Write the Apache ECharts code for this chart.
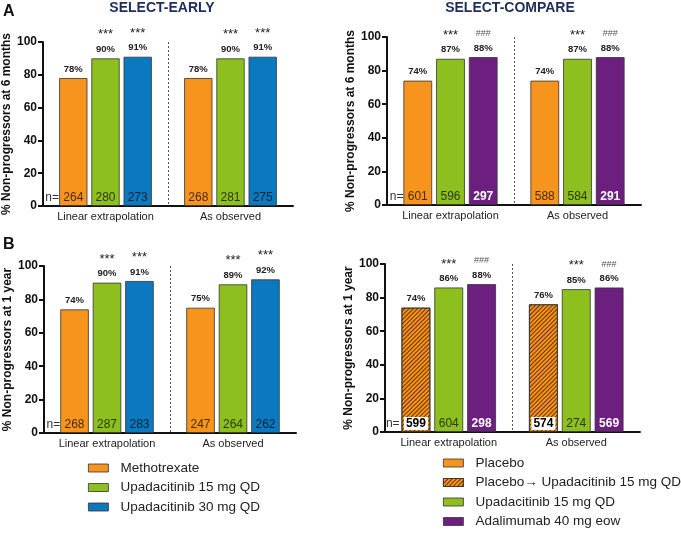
<!DOCTYPE html>
<html><head><meta charset="utf-8">
<script src="https://cdn.jsdelivr.net/npm/echarts@6/dist/echarts.min.js"></script>
<style>html,body{margin:0;padding:0;background:#fff}#c{width:681px;height:533px}</style>
</head><body><div id="c"></div>
<script>
// ---------- DATA ----------
const categories = ['Linear extrapolation', 'As observed'];
const yTicks = [0, 20, 40, 60, 80, 100];

// Panel A left: SELECT-EARLY, 6 months
const aEarlyMtx = [78, 78];   const aEarlyMtxN = [264, 268];
const aEarlyU15 = [90, 90];   const aEarlyU15N = [280, 281];
const aEarlyU30 = [91, 91];   const aEarlyU30N = [273, 275];
// Panel A right: SELECT-COMPARE, 6 months
const aCmpPbo = [74, 74];     const aCmpPboN = [601, 588];
const aCmpU15 = [87, 87];     const aCmpU15N = [596, 584];
const aCmpAda = [88, 88];     const aCmpAdaN = [297, 291];
// Panel B left: SELECT-EARLY, 1 year
const bEarlyMtx = [74, 75];   const bEarlyMtxN = [268, 247];
const bEarlyU15 = [90, 89];   const bEarlyU15N = [287, 264];
const bEarlyU30 = [91, 92];   const bEarlyU30N = [283, 262];
// Panel B right: SELECT-COMPARE, 1 year
const bCmpPboUpa = [74, 76];  const bCmpPboUpaN = [599, 574];
const bCmpU15 = [86, 85];     const bCmpU15N = [604, 274];
const bCmpAda = [88, 86];     const bCmpAdaN = [298, 569];

const starMarks = ['***', '***'];
const hashMarks = ['###', '###'];
const noMarks = ['', ''];

// ---------- STYLE ----------
const FONT = 'Liberation Sans, Arial, Helvetica, sans-serif';
const C_ORANGE = '#F7941D', C_GREEN = '#8DC01E', C_BLUE = '#0A79BF', C_PURPLE = '#6C1F7F';
const hatch = { symbol: 'rect', symbolSize: 1, color: '#6a3200', dashArrayX: [1, 0], dashArrayY: [1, 2], rotation: -Math.PI / 4 };

const rich = {
  pre: { fontSize: 12, color: '#333', width: 18, align: 'left', fontFamily: FONT },
  nm: { fontSize: 12, color: 'rgba(0,0,0,0.72)', fontFamily: FONT },
  nw: { fontSize: 12, color: '#fff', fontWeight: 'bold', fontFamily: FONT },
  nb: { fontSize: 12, color: '#000', fontWeight: 'bold', backgroundColor: '#fff', padding: [1, 2, 0, 2], fontFamily: FONT },
  s: { fontSize: 13, color: '#222', lineHeight: 17, fontFamily: FONT },
  h: { fontSize: 9, color: '#555', lineHeight: 17, fontFamily: FONT },
  v: { fontSize: 9.5, color: '#222', fontWeight: 'bold', lineHeight: 12, fontFamily: FONT }
};

const series = [];
function addBar(gi, name, vals, ns, marks, color, nStyle, first, decal) {
  const stack = 'g' + gi + '_' + name;
  series.push({
    name, type: 'bar', xAxisIndex: gi, yAxisIndex: gi, stack,
    data: vals.map((v, i) => (first && i === 0) ? { value: v, label: { offset: [-9, 0] } } : v),
    barWidth: '22.6%', barGap: '14%',
    itemStyle: { color, borderColor: '#333', borderWidth: 0.8, decal: decal || null },
    label: {
      show: true, position: 'insideBottom', distance: 2, rich,
      formatter: p => ((first && p.dataIndex === 0) ? '{pre|n=}' : '') + '{' + nStyle + '|' + ns[p.dataIndex] + '}'
    },
    emphasis: { disabled: true }
  });
  series.push({
    name: name + ' (label)', type: 'bar', xAxisIndex: gi, yAxisIndex: gi, stack, data: vals.map(() => 0),
    barWidth: '22.6%', barGap: '14%', silent: true,
    itemStyle: { color: 'rgba(0,0,0,0)', borderWidth: 0 },
    label: {
      show: true, position: 'top', distance: 3, rich,
      formatter: p => {
        const m = marks[p.dataIndex];
        const head = m ? '{' + (m === '***' ? 's' : 'h') + '|' + m + '}\n' : '';
        return head + '{v|' + vals[p.dataIndex] + '%}';
      }
    },
    emphasis: { disabled: true }
  });
}

addBar(0, 'Methotrexate', aEarlyMtx, aEarlyMtxN, noMarks, C_ORANGE, 'nm', true);
addBar(0, 'Upadacitinib 15 mg QD', aEarlyU15, aEarlyU15N, starMarks, C_GREEN, 'nm', false);
addBar(0, 'Upadacitinib 30 mg QD', aEarlyU30, aEarlyU30N, starMarks, C_BLUE, 'nm', false);

addBar(1, 'Placebo', aCmpPbo, aCmpPboN, noMarks, C_ORANGE, 'nm', true);
addBar(1, 'Upadacitinib 15 mg QD', aCmpU15, aCmpU15N, starMarks, C_GREEN, 'nm', false);
addBar(1, 'Adalimumab 40 mg eow', aCmpAda, aCmpAdaN, hashMarks, C_PURPLE, 'nw', false);

addBar(2, 'Methotrexate', bEarlyMtx, bEarlyMtxN, noMarks, C_ORANGE, 'nm', true);
addBar(2, 'Upadacitinib 15 mg QD', bEarlyU15, bEarlyU15N, starMarks, C_GREEN, 'nm', false);
addBar(2, 'Upadacitinib 30 mg QD', bEarlyU30, bEarlyU30N, starMarks, C_BLUE, 'nm', false);

addBar(3, 'Placebo\u2192 Upadacitinib 15 mg QD', bCmpPboUpa, bCmpPboUpaN, noMarks, C_ORANGE, 'nb', true, hatch);
addBar(3, 'Upadacitinib 15 mg QD', bCmpU15, bCmpU15N, starMarks, C_GREEN, 'nm', false);
addBar(3, 'Adalimumab 40 mg eow', bCmpAda, bCmpAdaN, hashMarks, C_PURPLE, 'nw', false);

const grids = [
  { left: 43, top: 42, width: 250, height: 164 },
  { left: 387, top: 37, width: 254, height: 168 },
  { left: 44, top: 266, width: 252, height: 167 },
  { left: 385, top: 264, width: 255, height: 168 }
];
const yNames = ['% Non-progressors at 6 months', '% Non-progressors at 6 months',
                '% Non-progressors at 1 year', '% Non-progressors at 1 year'];
const nameGaps = [26, 28, 27, 27];

const xAxis = grids.map((g, i) => ({
  type: 'category', gridIndex: i, data: categories,
  axisLine: { show: true, lineStyle: { color: '#111', width: 2 } },
  axisTick: { show: false },
  axisLabel: { fontSize: 11, color: '#222', margin: 5, fontFamily: FONT, interval: 0 },
  splitLine: { show: true, showMinLine: false, showMaxLine: false, lineStyle: { color: '#555', width: 1, type: [2, 2] } }
}));
const yAxis = grids.map((g, i) => ({
  type: 'value', gridIndex: i, min: yTicks[0], max: yTicks[yTicks.length - 1], interval: yTicks[1] - yTicks[0],
  name: yNames[i], nameLocation: 'middle', nameGap: nameGaps[i], nameRotate: 90,
  nameTextStyle: { fontSize: 12, fontWeight: 'bold', color: '#111', fontFamily: FONT },
  axisLine: { show: true, lineStyle: { color: '#111', width: 2 } },
  axisTick: { show: true, length: 5, lineStyle: { color: '#111', width: 2 } },
  axisLabel: { fontSize: 12, fontWeight: 'bold', color: '#111', margin: 6, fontFamily: FONT },
  splitLine: { show: false }
}));

const legendBase = {
  orient: 'vertical', icon: 'rect', itemWidth: 20, itemHeight: 8, itemGap: 5.5, selectedMode: false, padding: 0,
  textStyle: { fontSize: 13.5, color: '#222', fontFamily: FONT, lineHeight: 14, padding: [0, 0, 0, 7] },
  itemStyle: { borderColor: '#333', borderWidth: 0.8 }
};

const chart = echarts.init(document.getElementById('c'), null, { renderer: 'canvas' });
chart.setOption({
  animation: false,
  backgroundColor: '#fff',
  textStyle: { fontFamily: FONT },
  title: [
    { text: 'A', left: 3, top: 4, padding: 0, textStyle: { fontSize: 16, fontWeight: 'bold', color: '#111', fontFamily: FONT } },
    { text: 'SELECT-EARLY', left: 162, top: 1, padding: 0, textAlign: 'center', textStyle: { fontSize: 14, fontWeight: 'bold', color: '#1f2c5c', fontFamily: FONT } },
    { text: 'SELECT-COMPARE', left: 510, top: 1, padding: 0, textAlign: 'center', textStyle: { fontSize: 14, fontWeight: 'bold', color: '#1f2c5c', fontFamily: FONT } },
    { text: 'B', left: 3, top: 237, padding: 0, textStyle: { fontSize: 16, fontWeight: 'bold', color: '#111', fontFamily: FONT } }
  ],
  legend: [
    Object.assign({}, legendBase, { left: 88, top: 461, data: ['Methotrexate', 'Upadacitinib 15 mg QD', 'Upadacitinib 30 mg QD'] }),
    Object.assign({}, legendBase, { left: 443, top: 456, data: ['Placebo', 'Placebo\u2192 Upadacitinib 15 mg QD', 'Upadacitinib 15 mg QD', 'Adalimumab 40 mg eow'] })
  ],
  grid: grids,
  xAxis, yAxis, series
});
</script></body></html>
